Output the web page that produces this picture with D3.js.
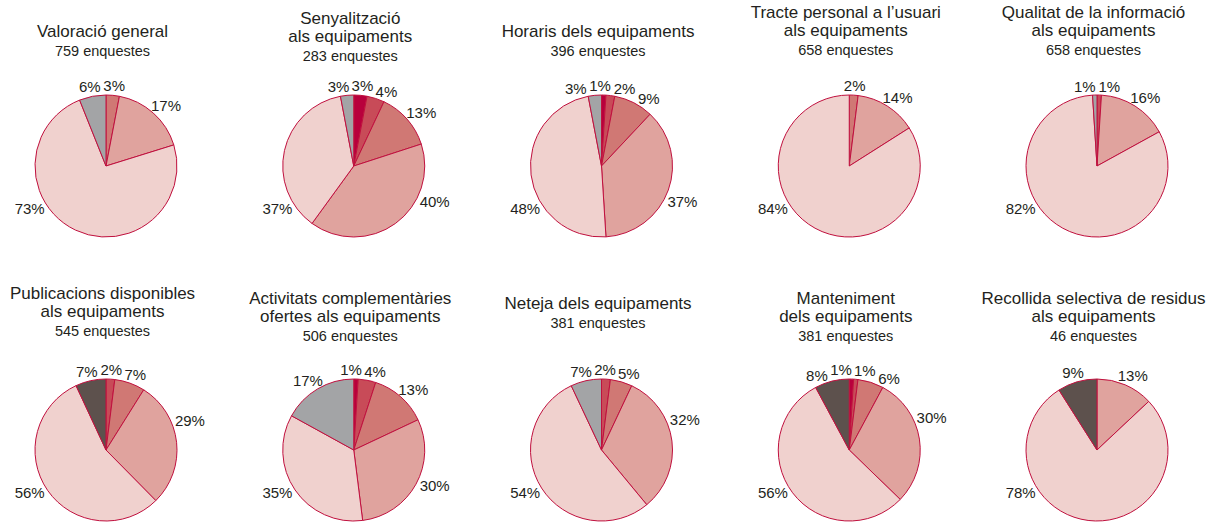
<!DOCTYPE html>
<html><head><meta charset="utf-8">
<script src="https://cdn.jsdelivr.net/npm/d3@7"></script>
<style>
body{margin:0;background:#fff}
text{font-family:"Liberation Sans",Arial,Helvetica,sans-serif;fill:#231f20}
</style>
</head><body>
<svg id="chart" width="1215" height="522"></svg>
<script>
// ---- data ----
const categories = ["Molt dolent", "Dolent", "Regular", "Bo", "Molt bo", "NS/NC", "No utilitza"];
const titles = [
  ["Valoració general"],
  ["Senyalització", "als equipaments"],
  ["Horaris dels equipaments"],
  ["Tracte personal a l\u2019usuari", "als equipaments"],
  ["Qualitat de la informació", "als equipaments"],
  ["Publicacions disponibles", "als equipaments"],
  ["Activitats complementàries", "ofertes als equipaments"],
  ["Neteja dels equipaments"],
  ["Manteniment", "dels equipaments"],
  ["Recollida selectiva de residus", "als equipaments"]
];
const surveys = [759, 283, 396, 658, 658, 545, 506, 381, 381, 46];
const valoracio    = [0, 0, 3, 17, 73, 6, 0];
const senyalitzacio = [3, 4, 13, 40, 37, 3, 0];
const horaris      = [1, 2, 9, 37, 48, 3, 0];
const tracte       = [0, 0, 2, 14, 84, 0, 0];
const qualitat     = [0, 1, 0, 16, 82, 1, 0];
const publicacions = [0, 2, 7, 29, 56, 0, 7];
const activitats   = [1, 4, 13, 30, 35, 17, 0];
const neteja       = [0, 2, 5, 32, 54, 7, 0];
const manteniment  = [1, 1, 6, 30, 56, 0, 8];
const recollida    = [0, 0, 0, 13, 78, 0, 9];
const series = [valoracio, senyalitzacio, horaris, tracte, qualitat,
                publicacions, activitats, neteja, manteniment, recollida];

// ---- style / layout ----
const palette = ["#b8003c", "#c84b58", "#d07874", "#e0a39e", "#f0d1ce", "#a3a4a6", "#5d514d"];
const titleShift = [0, 5, 0, -1, -1, -4, 1, -12, 1, 1];
const R = 71, GAP = 4, LH = 11;
const deg = Math.PI / 180;

const svg = d3.select("#chart");
const xCol = d3.scalePoint().domain(d3.range(5)).range([106, 1097]);
const yRow = d3.scalePoint().domain([0, 1]).range([166, 450]);
const color = d3.scaleOrdinal().domain(categories).range(palette);
const pie = d3.pie().sort(null).value(d => d.v);
const arc = d3.arc().innerRadius(0).outerRadius(R);

series.forEach((vals, i) => {
  const cx = xCol(i % 5), cy = yRow(Math.floor(i / 5));
  const g = svg.append("g").attr("transform", `translate(${cx},${cy})`);

  // titles
  const subY = -R - 39 + titleShift[i];
  const lines = titles[i];
  g.append("text").attr("x", -3.5).attr("y", subY).attr("text-anchor", "middle")
    .style("font-size", "14.5px").text(`${surveys[i]} enquestes`);
  lines.slice().reverse().forEach((t, k) => {
    g.append("text").attr("x", -3.5).attr("y", subY - 19.5 - k * 18)
      .attr("text-anchor", "middle").style("font-size", "17px").text(t);
  });

  const data = vals.map((v, c) => ({ v, cat: categories[c] })).filter(d => d.v > 0);
  const arcs = pie(data);

  g.selectAll("path").data(arcs).join("path")
    .attr("d", arc)
    .attr("fill", d => color(d.data.cat))
    .attr("stroke", "#c0103e").attr("stroke-width", 1)
    .attr("stroke-linejoin", "round");

  // labels
  const labs = arcs.map(a => {
    const span = a.endAngle - a.startAngle;
    const mid = (a.startAngle + a.endAngle) / 2;
    let th = mid;
    if (span > 100 * deg && a.startAngle <= 238 * deg && a.endAngle >= 238 * deg) th = 238 * deg;
    else if (span > 100 * deg) th = mid > 100 * deg ? 116 * deg : mid - 15 * deg;
    if (th > Math.PI) th -= 2 * Math.PI;
    const t = g.append("text").attr("text-anchor", "middle").style("font-size", "15px")
      .text(`${a.data.v}%`);
    return { t, th, w: t.node().getComputedTextLength() };
  });
  const place = l => {
    const s = Math.sin(l.th), c = Math.cos(l.th);
    l.x = s * (R + GAP) + s * l.w / 2;
    l.y = -c * (R + GAP) - c * LH / 2;
  };
  labs.forEach(place);
  const overlap = (a, b) => Math.abs(a.x - b.x) < (a.w + b.w) / 2 + 2 && Math.abs(a.y - b.y) < LH + 2;
  for (let it = 0; it < 600; it++) {
    labs.sort((a, b) => a.th - b.th);
    let moved = false;
    for (let p = 0; p < labs.length; p++) for (let q = p + 1; q < labs.length; q++) {
      if (overlap(labs[p], labs[q])) {
        labs[p].th -= 0.4 * deg; labs[q].th += 0.4 * deg; moved = true;
        place(labs[p]); place(labs[q]);
      }
    }
    if (!moved) break;
  }
  labs.forEach(l => l.t.attr("x", l.x).attr("y", l.y + 5.3));
});
</script>
</body></html>
